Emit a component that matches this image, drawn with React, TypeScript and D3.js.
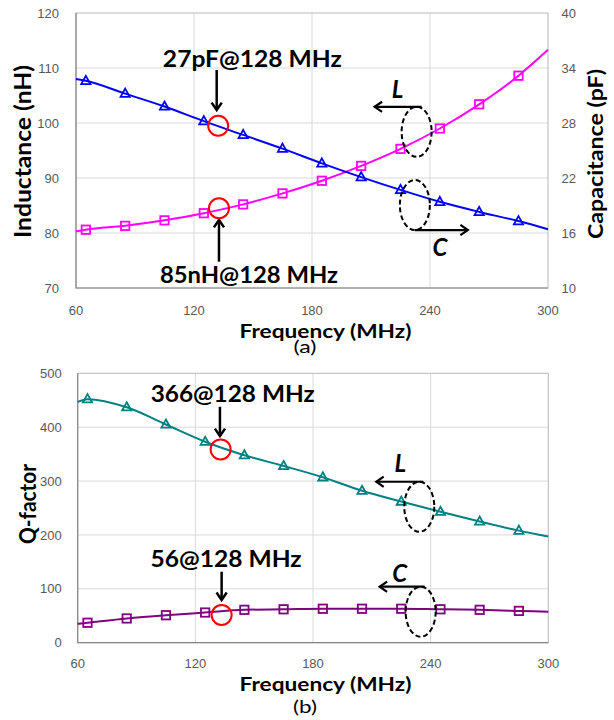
import React, { useEffect, useRef } from 'react'
import * as d3 from 'd3'

// marker frequencies (MHz)
const markerFreqs = [65, 85, 105, 125, 145, 165, 185, 205, 225, 245, 265, 285]

// panel (a)
const inductanceNH = [80.6, 81.3, 82.3, 83.6, 85.2, 87.2, 89.5, 92.2, 95.3, 99.0, 103.4, 108.6]
const capacitancePF = [32.6, 31.2, 29.8, 28.2, 26.7, 25.2, 23.6, 22.1, 20.7, 19.4, 18.3, 17.3]
// panel (b)
const qInductor = [452, 437, 405, 373, 348, 328, 307, 282, 262, 243, 225, 208]
const qCapacitor = [37, 45, 51, 56, 61, 62, 63, 63, 63, 62, 61, 59]

// where the fitted curves meet the plot edges (60 and 300 MHz)
const edgeFreqs = [60, 300]
const inductanceEdges = [80.3, 113.3]
const capacitanceEdges = [32.8, 16.4]
const qInductorEdges = [447, 197]
const qCapacitorEdges = [35, 57.5]

const freqTicks = [60, 120, 180, 240, 300]
const inductanceTicks = [70, 80, 90, 100, 110, 120]
const capacitanceTicks = [10, 16, 22, 28, 34, 40]
const qTicks = [0, 100, 200, 300, 400, 500]

const LABEL_FONT = 'Lato, "Open Sans", sans-serif'
const TICK_FONT = '"Liberation Sans", Arial, sans-serif'

const App = () => {
  const ref = useRef<SVGSVGElement>(null)

  useEffect(() => {
    const svg = d3.select(ref.current)
    svg.selectAll('*').remove()

    const arrow = (g: any, x1: number, y1: number, x2: number, y2: number, w = 2.5) => {
      g.append('line')
        .attr('x1', x1).attr('y1', y1).attr('x2', x2).attr('y2', y2)
        .attr('stroke', 'black').attr('stroke-width', w)
      const a = Math.atan2(y2 - y1, x2 - x1)
      const len = 9, spread = 0.6
      const p = [
        [x2 - len * Math.cos(a - spread), y2 - len * Math.sin(a - spread)],
        [x2, y2],
        [x2 - len * Math.cos(a + spread), y2 - len * Math.sin(a + spread)],
      ]
      g.append('path')
        .attr('d', d3.line()(p as any))
        .attr('fill', 'none').attr('stroke', 'black').attr('stroke-width', w)
        .attr('stroke-linejoin', 'miter')
    }

    const drawPanel = (cfg: any) => {
      const { left, right, top, bottom } = cfg.box
      const g = svg.append('g')
      const x = d3.scaleLinear().domain([60, 300]).range([left, right])
      const yL = d3.scaleLinear().domain(d3.extent(cfg.leftTicks) as any).range([bottom, top])
      const yR = cfg.rightTicks
        ? d3.scaleLinear().domain(d3.extent(cfg.rightTicks) as any).range([bottom, top])
        : yL

      // grid
      cfg.leftTicks.slice(1, -1).forEach((t: number) => {
        g.append('line').attr('x1', left).attr('x2', right).attr('y1', yL(t)).attr('y2', yL(t))
          .attr('stroke', '#d9d9d9').attr('stroke-width', 1)
      })
      freqTicks.slice(1, -1).forEach((t) => {
        g.append('line').attr('x1', x(t)).attr('x2', x(t)).attr('y1', top).attr('y2', bottom)
          .attr('stroke', '#d9d9d9').attr('stroke-width', 1)
      })
      // frame
      g.append('rect').attr('x', left).attr('y', top).attr('width', right - left).attr('height', bottom - top)
        .attr('fill', 'none').attr('stroke', '#b8b8b8').attr('stroke-width', 1)
      g.append('path').attr('d', `M${left},${top}V${bottom}H${right}`)
        .attr('fill', 'none').attr('stroke', '#868686').attr('stroke-width', 1.2)

      // tick labels
      cfg.leftTicks.forEach((t: number) => {
        g.append('text').attr('x', left - cfg.leftTickGap).attr('y', yL(t) + 4.6)
          .attr('text-anchor', 'end').style('font-family', TICK_FONT).style('font-size', '13px')
          .attr('fill', '#595959').text(t)
      })
      if (cfg.rightTicks) {
        cfg.rightTicks.forEach((t: number) => {
          g.append('text').attr('x', right + 13.5).attr('y', yR(t) + 4.6)
            .attr('text-anchor', 'start').style('font-family', TICK_FONT).style('font-size', '13px')
            .attr('fill', '#595959').text(t)
        })
      }
      freqTicks.forEach((t) => {
        g.append('text').attr('x', x(t)).attr('y', bottom + cfg.bottomTickGap)
          .attr('text-anchor', 'middle').style('font-family', TICK_FONT).style('font-size', '13px')
          .attr('fill', '#595959').text(t)
      })

      // axis titles
      const title = (txt: string, tx: number, ty: number, len: number, size: number, rot = 0, weight = 'bold') => {
        g.append('text')
          .attr('transform', `translate(${tx},${ty}) rotate(${rot})`)
          .attr('text-anchor', 'middle')
          .style('font-family', LABEL_FONT).style('font-size', `${size}px`).style('font-weight', weight)
          .attr('textLength', len).attr('lengthAdjust', 'spacingAndGlyphs')
          .attr('fill', 'black').text(txt)
      }
      cfg.titles.forEach((t: any) => title(t.text, t.x, t.y, t.len, t.size, t.rot, t.weight))

      // series
      cfg.series.forEach((s: any) => {
        const yS = s.axis === 'right' ? yR : yL
        const pts: [number, number][] = [
          [edgeFreqs[0], s.edges[0]],
          ...markerFreqs.map((f, i) => [f, s.values[i]] as [number, number]),
          [edgeFreqs[1], s.edges[1]],
        ]
        const line = d3.line<[number, number]>()
          .x((d) => x(d[0])).y((d) => yS(d[1]))
          .curve(d3.curveMonotoneX)
        g.append('path').attr('d', line(pts)).attr('fill', 'none')
          .attr('stroke', s.color).attr('stroke-width', 2)
        markerFreqs.forEach((f, i) => {
          const cx = x(f), cy = yS(s.values[i])
          if (s.marker === 'triangle') {
            g.append('path')
              .attr('d', `M${cx},${cy - 5}L${cx + 4.6},${cy + 3.2}L${cx - 4.6},${cy + 3.2}Z`)
              .attr('fill', 'none').attr('stroke', s.color).attr('stroke-width', 1.8)
          } else {
            g.append('rect').attr('x', cx - 4.2).attr('y', cy - 4.2).attr('width', 8.4).attr('height', 8.4)
              .attr('fill', 'none').attr('stroke', s.color).attr('stroke-width', 1.8)
          }
        })
      })

      // callouts (red circles with labelled arrows)
      cfg.callouts.forEach((c: any) => {
        const yS = c.axis === 'right' ? yR : yL
        const cx = x(c.freq), cy = yS(c.value)
        arrow(g, cx + c.arrow[0], cy + c.arrow[1], cx + c.arrow[0], cy + c.arrow[2])
        g.append('circle').attr('cx', cx).attr('cy', cy).attr('r', 10)
          .attr('fill', 'none').attr('stroke', '#ff0000').attr('stroke-width', 2)
        g.append('text').attr('x', cx + c.dx).attr('y', cy + c.dy)
          .style('font-family', LABEL_FONT).style('font-size', '23px').style('font-weight', 'bold')
          .attr('textLength', c.len).attr('lengthAdjust', 'spacingAndGlyphs')
          .attr('fill', 'black').text(c.text)
      })

      // L / C keys (dashed ellipse + arrow towards axis)
      cfg.keys.forEach((k: any) => {
        const yS = k.axis === 'right' ? yR : yL
        const cx = x(k.freq), cy = yS(k.value)
        g.append('ellipse').attr('cx', cx).attr('cy', cy).attr('rx', 15).attr('ry', 25)
          .attr('fill', 'none').attr('stroke', 'black').attr('stroke-width', 2)
          .attr('stroke-dasharray', '5,3')
        const ay = cy + k.edge * 25
        arrow(g, cx + k.arrow[0], ay, cx + k.arrow[1], ay, 2.2)
        g.append('text').attr('x', cx + k.dx).attr('y', cy + k.dy).attr('text-anchor', 'middle')
          .style('font-family', LABEL_FONT).style('font-size', '24px').style('font-weight', 'bold')
          .style('font-style', 'italic').attr('fill', 'black').text(k.text)
      })
    }

    drawPanel({
      box: { left: 76, right: 548, top: 13, bottom: 288 },
      leftTicks: inductanceTicks,
      rightTicks: capacitanceTicks,
      leftTickGap: 17,
      bottomTickGap: 26.5,
      titles: [
        { text: 'Inductance (nH)', x: 31, y: 151.5, len: 173, size: 22, rot: -90 },
        { text: 'Capacitance (pF)', x: 603, y: 154, len: 170, size: 20, rot: -90 },
        { text: 'Frequency (MHz)', x: 325.5, y: 337.5, len: 172, size: 19, rot: 0 },
        { text: '(a)', x: 305, y: 353, len: 23, size: 16.5, rot: 0, weight: 'normal' },
      ],
      series: [
        { values: inductanceNH, edges: inductanceEdges, color: '#ff00ff', marker: 'square', axis: 'left' },
        { values: capacitancePF, edges: capacitanceEdges, color: '#0000ff', marker: 'triangle', axis: 'right' },
      ],
      callouts: [
        { text: '27pF@128 MHz', freq: 132.3, value: 27.7, axis: 'right', arrow: [-1.5, -55.7, -15.7], dx: -55.3, dy: -59, len: 179 },
        { text: '85nH@128 MHz', freq: 132.7, value: 84.5, axis: 'left', arrow: [0, 53.4, 11.7], dx: -59, dy: 75, len: 178 },
      ],
      keys: [
        { text: 'L', freq: 233.2, value: 98.4, axis: 'left', edge: -1, arrow: [5, -42], dx: -19, dy: -34 },
        { text: 'C', freq: 232.3, value: 19.05, axis: 'right', edge: 1, arrow: [0, 53], dx: 25, dy: 51 },
      ],
    })

    drawPanel({
      box: { left: 77.7, right: 548.3, top: 373.3, bottom: 642.7 },
      leftTicks: qTicks,
      rightTicks: null,
      leftTickGap: 16,
      bottomTickGap: 25.3,
      titles: [
        { text: 'Q-factor', x: 36, y: 504, len: 80, size: 22, rot: -90 },
        { text: 'Frequency (MHz)', x: 325.5, y: 691, len: 172, size: 19, rot: 0 },
        { text: '(b)', x: 305, y: 713, len: 24, size: 16.5, rot: 0, weight: 'normal' },
      ],
      series: [
        { values: qInductor, edges: qInductorEdges, color: '#008080', marker: 'triangle', axis: 'left' },
        { values: qCapacitor, edges: qCapacitorEdges, color: '#800080', marker: 'square', axis: 'left' },
      ],
      callouts: [
        { text: '366@128 MHz', freq: 132.9, value: 358.8, axis: 'left', arrow: [-0.7, -42.6, -13.3], dx: -70, dy: -47.6, len: 164 },
        { text: '56@128 MHz', freq: 133.4, value: 51.4, axis: 'left', arrow: [0, -43.3, -15], dx: -71, dy: -48.3, len: 151 },
      ],
      keys: [
        { text: 'L', freq: 234.2, value: 252.3, axis: 'left', edge: -1, arrow: [4, -43], dx: -19, dy: -35 },
        { text: 'C', freq: 234.9, value: 57.5, axis: 'left', edge: -1, arrow: [4, -41], dx: -21, dy: -30 },
      ],
    })
  }, [])

  return (
    <svg ref={ref} width={614} height={720}
      style={{ position: 'absolute', left: 0, top: 0, background: 'white' }} />
  )
}

export default App
